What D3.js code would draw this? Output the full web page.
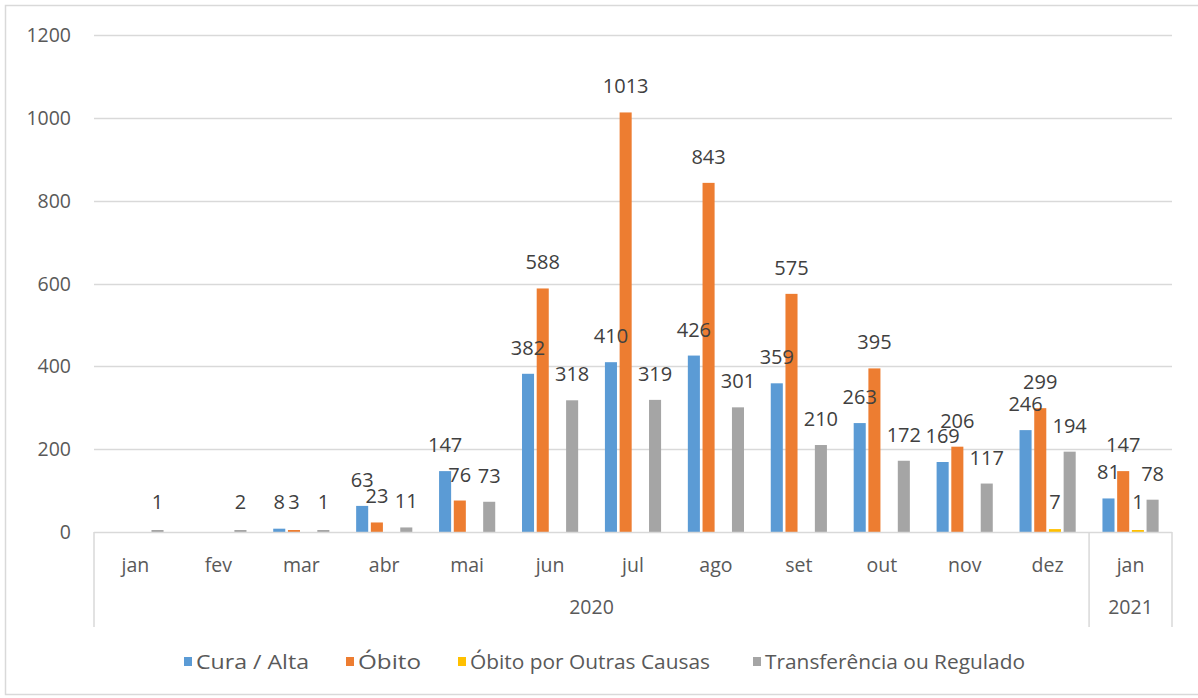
<!DOCTYPE html>
<html>
<head>
<meta charset="utf-8">
<script src="https://cdn.jsdelivr.net/npm/d3@7"></script>
<style>
  html, body { margin: 0; padding: 0; background: #fff; }
  svg { display: block; }
  text { font-family: "Open Sans", "Liberation Sans", sans-serif; }
</style>
</head>
<body>
<svg id="chart" width="1198" height="698"></svg>
<script>
// ---- data ----
const months = ["jan", "fev", "mar", "abr", "mai", "jun", "jul", "ago", "set", "out", "nov", "dez", "jan"];
const years = [{ label: "2020", from: 0, to: 11 }, { label: "2021", from: 12, to: 12 }];
const seriesNames = ["Cura / Alta", "Óbito", "Óbito por Outras Causas", "Transferência ou Regulado"];
const curaAlta      = [0, 0, 8, 63, 147, 382, 410, 426, 359, 263, 169, 246, 81];
const obito         = [0, 0, 3, 23, 76, 588, 1013, 843, 575, 395, 206, 299, 147];
const obitoOutras   = [0, 0, 0, 0, 0, 0, 0, 0, 0, 0, 0, 7, 1];
const transferencia = [1, 2, 1, 11, 73, 318, 319, 301, 210, 172, 117, 194, 78];
const yTicks = [0, 200, 400, 600, 800, 1000, 1200];
const colors = ["#5B9BD5", "#ED7D31", "#FFC000", "#A5A5A5"];

const seriesValues = [curaAlta, obito, obitoOutras, transferencia];

const svg = d3.select("#chart");
const grid = "#d9d9d9";
const axisText = "#595959";
const labelText = "#404040";

// outer frame
svg.append("rect").attr("x", 5.5).attr("y", 5.5).attr("width", 1200).attr("height", 689)
  .attr("fill", "none").attr("stroke", grid).attr("stroke-width", 1.5);

const pLeft = 94, pRight = 1172, pTop = 35, pBottom = 532;

const x = d3.scaleBand().domain(d3.range(months.length)).range([pLeft, pRight]).padding(0);
const xs = d3.scaleBand().domain(d3.range(seriesNames.length)).range([0, x.bandwidth()])
  .paddingInner(0.18).paddingOuter(0.91);
const y = d3.scaleLinear().domain([0, 1200]).range([pBottom, pTop]);

// gridlines
svg.append("g").selectAll("line").data(yTicks.filter(t => t > 0)).join("line")
  .attr("x1", pLeft).attr("x2", pRight)
  .attr("y1", d => Math.round(y(d)) + 0.5).attr("y2", d => Math.round(y(d)) + 0.5)
  .attr("stroke", grid).attr("stroke-width", 1.5);

// y axis tick labels
svg.append("g").selectAll("text").data(yTicks).join("text")
  .attr("x", 71).attr("y", d => y(d)).attr("dy", "0.36em")
  .attr("text-anchor", "end").attr("font-size", 19.5).attr("fill", axisText)
  .text(d => d);

// bars
const groups = svg.append("g").selectAll("g").data(months).join("g")
  .attr("transform", (d, i) => `translate(${x(i)},0)`);

groups.each(function (m, i) {
  const g = d3.select(this);
  const data = seriesValues.map((arr, s) => ({ s, v: arr[i] }));
  g.selectAll("rect").data(data.filter(d => d.v > 0)).join("rect")
    .attr("x", d => xs(d.s)).attr("width", xs.bandwidth())
    .attr("y", d => Math.min(y(d.v), pBottom - 2))
    .attr("height", d => Math.max(pBottom - y(d.v), 2))
    .attr("fill", d => colors[d.s]);
  g.selectAll("text").data(data.filter(d => d.v > 0)).join("text")
    .attr("x", d => xs(d.s) + xs.bandwidth() / 2)
    .attr("y", d => Math.min(y(d.v), pBottom - 4) - 19)
    .attr("text-anchor", "middle").attr("font-size", 20).attr("fill", labelText)
    .text(d => d.v);
});

// baseline
svg.append("line").attr("x1", pLeft).attr("x2", pRight).attr("y1", pBottom + 0.5).attr("y2", pBottom + 0.5)
  .attr("stroke", grid).attr("stroke-width", 1.5);

// category separators
const sepXs = [pLeft, x(12), pRight];
svg.append("g").selectAll("line").data(sepXs).join("line")
  .attr("x1", d => d).attr("x2", d => d).attr("y1", pBottom).attr("y2", 627)
  .attr("stroke", grid).attr("stroke-width", 1.5);

// month labels
svg.append("g").selectAll("text").data(months).join("text")
  .attr("x", (d, i) => x(i) + x.bandwidth() / 2).attr("y", 565).attr("dy", "0.36em")
  .attr("text-anchor", "middle").attr("font-size", 19.5).attr("fill", axisText)
  .text(d => d);

// year labels
svg.append("g").selectAll("text").data(years).join("text")
  .attr("x", d => (x(d.from) + x(d.to) + x.bandwidth()) / 2).attr("y", 607).attr("dy", "0.36em")
  .attr("text-anchor", "middle").attr("font-size", 19.5).attr("fill", axisText)
  .text(d => d.label);

// legend
const legendX = [184, 346, 458, 753];
const legendTextW = [113, 63, 240, 260];
const leg = svg.append("g").selectAll("g").data(seriesNames).join("g")
  .attr("transform", (d, i) => `translate(${legendX[i]},662)`);
leg.append("rect").attr("x", 0).attr("y", -5).attr("width", 8).attr("height", 9)
  .attr("fill", (d, i) => colors[i]);
leg.append("text").attr("x", 12).attr("y", 0).attr("dy", "0.36em")
  .attr("font-size", 19.5).attr("fill", axisText)
  .attr("textLength", (d, i) => legendTextW[i]).attr("lengthAdjust", "spacingAndGlyphs")
  .text(d => d);
</script>
</body>
</html>
